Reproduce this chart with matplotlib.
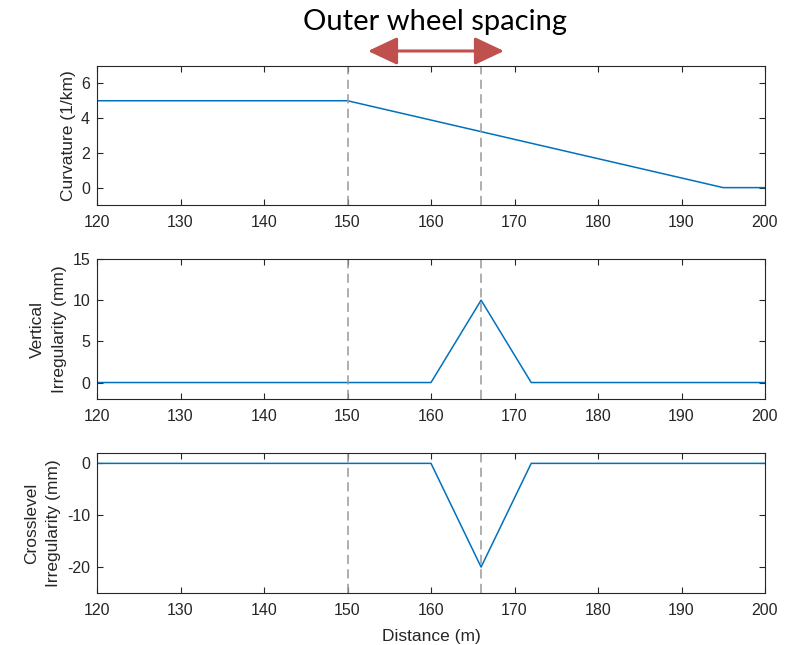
import matplotlib
matplotlib.use('Agg')
from matplotlib import pyplot as plt
import numpy as np

# distance breakpoints and values
curv_x = [120, 150, 195, 200]
curv_y = [5, 5, 0, 0]

vert_x = [120, 160, 166, 172, 200]
vert_y = [0, 0, 10, 0, 0]

cross_x = [120, 160, 166, 172, 200]
cross_y = [0, 0, -20, 0, 0]

wheel_marks = [150, 166]
xticks = [120, 130, 140, 150, 160, 170, 180, 190, 200]

plt.rcParams['font.family'] = ['Liberation Sans', 'DejaVu Sans']
plt.rcParams['axes.unicode_minus'] = False

fig = plt.figure(figsize=(7.88, 6.45), dpi=100)
W, H = 788, 645

def add_axes(top, bottom):
    return fig.add_axes([97 / W, 1 - bottom / H, (765 - 97) / W, (bottom - top) / H])

ax1 = add_axes(66, 205)
ax2 = add_axes(259, 399)
ax3 = add_axes(453, 593)

panels = [
    (ax1, curv_x, curv_y, (-1, 7), [0, 2, 4, 6], 'Curvature (1/km)'),
    (ax2, vert_x, vert_y, (-2, 15), [0, 5, 10, 15], 'Vertical\nIrregularity (mm)'),
    (ax3, cross_x, cross_y, (-25, 2), [-20, -10, 0], 'Crosslevel\nIrregularity (mm)'),
]

for ax, xs, ys, ylim, yticks, label in panels:
    ax.plot(xs, ys, color='#0072BD', linewidth=1.1)
    for m in wheel_marks:
        ax.axvline(m, color='#999999', linestyle=(0, (6, 3.5)), linewidth=1.1)
    ax.set_xlim(120, 200)
    ax.set_ylim(*ylim)
    ax.set_xticks(xticks)
    ax.set_yticks(yticks)
    ax.tick_params(direction='in', top=True, right=True, length=4, width=0.8,
                   colors='#262626', labelsize=11.5)
    ax.tick_params(axis='x', pad=7)
    ax.tick_params(axis='y', pad=5)
    for s in ax.spines.values():
        s.set_color('#262626')
        s.set_linewidth(0.8)
    ax.set_ylabel(label, color='#262626', fontsize=12.5, labelpad=4, linespacing=1.6)

ax3.set_xlabel('Distance (m)', color='#262626', fontsize=12.5, labelpad=8)

# annotation above the top panel
fig.text(435 / W, 1 - 22 / H, 'Outer wheel spacing', ha='center', va='center',
         fontsize=21, family=['Lato', 'DejaVu Sans'], color='black')
fig.patches.append(matplotlib.patches.FancyArrowPatch(
    (368 / W, 1 - 51 / H), (504 / W, 1 - 51 / H), transform=fig.transFigure,
    arrowstyle='<|-|>,head_length=18,head_width=8.5', color='#C0504D',
    linewidth=2.2, shrinkA=0, shrinkB=0, mutation_scale=1))

fig.savefig('out.png', dpi=100)
